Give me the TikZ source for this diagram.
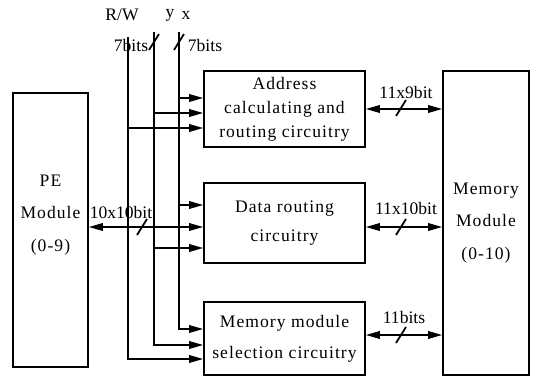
\documentclass[tikz,border=0pt]{standalone}
\usepackage{fontspec}
\setmainfont{Liberation Serif}
\newfontfamily\boxfont[LetterSpace=6]{Liberation Serif}
\usetikzlibrary{arrows.meta}
\tikzset{
  blk/.style={draw, line width=0.9pt, minimum width=3.22cm, inner sep=1pt, align=center},
  bus/.style={line width=1pt},
  arr/.style={line width=1pt, -{Triangle[length=0.28cm,width=0.15cm]}},
  darr/.style={line width=1pt, {Triangle[length=0.28cm,width=0.15cm]}-{Triangle[length=0.28cm,width=0.15cm]}},
  slash/.style={line width=1pt},
}
\begin{document}
\begin{tikzpicture}[x=0.02cm, y=-0.02cm, font=\fontsize{10}{12}\selectfont]
    \useasboundingbox (0,0) rectangle (535,376);

    % Modules
    \node[blk, minimum width=1.5cm, minimum height=5.48cm,
      label={[align=center, yshift=0.3cm, font={\boxfont\fontsize{10}{18.7}\selectfont}]center:PE\\Module\\(0-9)}]
      (pe) at (50.5,230) {};
    \node[blk, minimum width=1.72cm, minimum height=6.08cm, font={\boxfont\fontsize{10}{18.7}\selectfont}]
      (mem) at (486,223) {Memory\\Module\\(0-10)};

    % Circuitry blocks
    \node[blk, minimum height=1.52cm, font={\boxfont\fontsize{10}{13.6}\selectfont}]
      (addr) at (284.5,109) {Address\\calculating and\\routing circuitry};
    \node[blk, minimum height=1.6cm, font={\boxfont\fontsize{10}{16.4}\selectfont}]
      (data) at (284.5,223) {Data routing\\circuitry};
    \node[blk, minimum height=1.46cm, font={\boxfont\fontsize{10}{17.6}\selectfont}]
      (sel) at (284.5,338.5) {Memory module\\selection circuitry};

    % Bus lines
    \coordinate (rwtop) at (128,37);
    \coordinate (ytop) at (154,32);
    \coordinate (xtop) at (179,32);
    \foreach \n/\px/\py in {xa/179/98, ya/154/113, ra/128/128, xd/179/205, yd/154/248,
                            xs/179/329, ys/154/345, rs/128/359}
      \coordinate (\n) at (\px,\py);
    \draw[arr] (xtop) -- (xs) -- (xs -| sel.west);
    \draw[arr] (ytop) -- (ys) -- (ys -| sel.west);
    \draw[arr] (rwtop) -- (rs) -- (rs -| sel.west);
    \foreach \a/\b in {xa/addr, ya/addr, ra/addr, xd/data, yd/data}
      \draw[arr] (\a) -- (\a -| \b.west);

    % Data paths
    \coordinate (pd) at (120,227);
    \coordinate (dm) at (400,227);
    \coordinate (sm) at (400,335);
    \draw[darr] (pd -| pe.east) -- (pd -| data.west);
    \draw[darr] (addr.east) -- (addr.east -| mem.west);
    \draw[darr] (dm -| data.east) -- (dm -| mem.west);
    \draw[darr] (sm -| sel.east) -- (sm -| mem.west);

    % Width marks
    \foreach \sx/\sy in {154/42, 179/42, 142/227, 401/108, 401/227, 401/335}
      \draw[slash] (\sx,\sy) ++(-5,8) -- ++(10,-16);

    % Labels
    \node (rw) at (122,15) {R/W};
    \node (ylab) at (170,15) {y};
    \node (xlab) at (186,15) {x};
    \node (wy) at (131,45) {7bits};
    \node (wx) at (205,45) {7bits};
    \node (wpe) at (121,212) {10x10bit};
    \node (wa) at (406,92) {11x9bit};
    \node (wd) at (406,208) {11x10bit};
    \node (ws) at (404,317) {11bits};
\end{tikzpicture}
\end{document}
